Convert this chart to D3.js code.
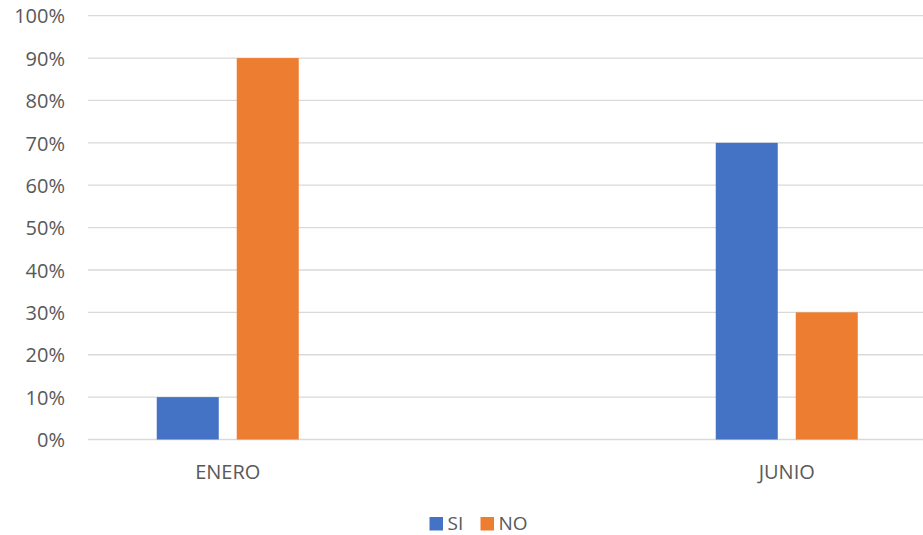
<!DOCTYPE html>
<html>
<head>
<meta charset="utf-8">
<script src="https://cdn.jsdelivr.net/npm/d3@7/dist/d3.min.js"></script>
<style>
  html, body { margin: 0; padding: 0; background: #fff; }
  svg { display: block; }
  svg text { font-family: "Open Sans", "Liberation Sans", sans-serif; fill: #595959; font-size: 20px; }
</style>
</head>
<body>
<svg id="chart" width="923" height="535"></svg>
<script>
// Categories (the middle one is an empty row in the source table)
const categories = ["ENERO", "", "JUNIO"];
const seriesNames = ["SI", "NO"];
const siValues = [0.10, null, 0.70];
const noValues = [0.90, null, 0.30];
const yTicks = [0, 0.1, 0.2, 0.3, 0.4, 0.5, 0.6, 0.7, 0.8, 0.9, 1.0];
const colors = ["#4472C4", "#ED7D31"];

const svg = d3.select("#chart");
const W = 923, H = 535;
const plot = { left: 88, right: 926.5, top: 15.7, bottom: 439.5 };
const FS = "20px";

const x = d3.scaleBand().domain(categories).range([plot.left, plot.right]).padding(0);
const groupWidth = 142;
const xSub = d3.scaleBand().domain(seriesNames)
  .range([(x.bandwidth() - groupWidth) / 2, (x.bandwidth() + groupWidth) / 2])
  .paddingInner(0.225).paddingOuter(0);
const y = d3.scaleLinear().domain([0, 1]).range([plot.bottom, plot.top]);

// Horizontal gridlines
svg.append("g").selectAll("line").data(yTicks).join("line")
  .attr("x1", plot.left).attr("x2", W)
  .attr("y1", d => y(d)).attr("y2", d => y(d))
  .attr("stroke", "#d9d9d9").attr("stroke-width", 1.3);

// Y axis labels
const yAxis = d3.axisLeft(y).tickValues(yTicks).tickFormat(d3.format(".0%")).tickSize(0).tickPadding(0);
const gy = svg.append("g").attr("transform", `translate(65,0)`).call(yAxis)
  .attr("font-size", null).attr("font-family", null);
gy.select(".domain").remove();
gy.selectAll("text")
  .style("font-size", FS)
  .style("fill", "#595959")
  .attr("dy", "0.36em");

// Bars
const rows = categories.map((c, i) => ({ cat: c, values: [siValues[i], noValues[i]] }));
const groups = svg.append("g").selectAll("g").data(rows).join("g")
  .attr("transform", d => `translate(${x(d.cat)},0)`);
groups.selectAll("rect")
  .data(d => d.values.map((v, j) => ({ key: seriesNames[j], v, j })).filter(e => e.v !== null))
  .join("rect")
  .attr("x", d => xSub(d.key))
  .attr("width", xSub.bandwidth())
  .attr("y", d => y(d.v))
  .attr("height", d => y(0) - y(d.v))
  .attr("fill", d => colors[d.j]);

// Category labels
const xAxis = d3.axisBottom(x).tickSize(0).tickPadding(0);
const gx = svg.append("g").attr("transform", `translate(0,${plot.bottom})`).call(xAxis)
  .attr("font-size", null).attr("font-family", null);
gx.select(".domain").remove();
gx.selectAll("text")
  .attr("y", 39)
  .attr("dy", 0)
  .style("font-size", FS)
  .style("fill", "#595959");

// Legend
const legend = svg.append("g");
const legendItems = [{ name: seriesNames[0], x: 429.5 }, { name: seriesNames[1], x: 480.5 }];
legendItems.forEach((it, i) => {
  legend.append("rect").attr("x", it.x).attr("y", 517).attr("width", 13.5).attr("height", 13.5).attr("fill", colors[i]);
  legend.append("text").attr("x", it.x + 18).attr("y", 529.5)
    .style("font-size", "19px").text(it.name);
});
</script>
</body>
</html>
